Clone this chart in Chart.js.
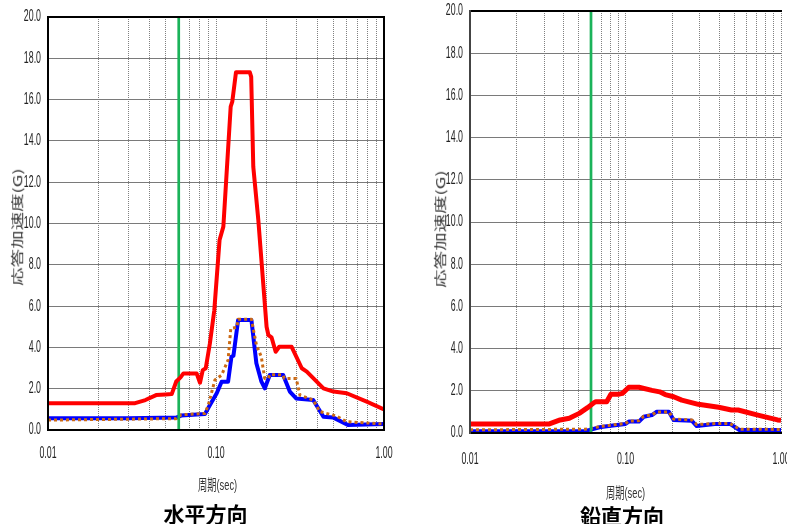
<!DOCTYPE html>
<html><head><meta charset="utf-8">
<script src="https://cdn.jsdelivr.net/npm/chart.js@4.4.1/dist/chart.umd.min.js"></script>
<style>
html,body{margin:0;padding:0;background:#fff;width:787px;height:524px;overflow:hidden;position:relative;}
canvas{position:absolute;top:0;}
#cH{left:0;}
#cV{left:400px;}
.t{position:absolute;white-space:nowrap;line-height:1;transform-origin:50% 50%;}
.ytitle{font-size:12px;font-family:'Noto Sans CJK JP',sans-serif;color:#333;}
.xtitle{font-size:14px;font-family:'Liberation Sans','Noto Sans CJK JP',sans-serif;color:#333;}
.head{font-size:21px;font-weight:bold;font-family:'Noto Sans CJK JP',sans-serif;color:#000;}
</style></head><body>
<canvas id="cH" width="400" height="524"></canvas>
<canvas id="cV" width="397" height="524"></canvas>
<div class="t ytitle" id="yH">応答加速度(G)</div>
<div class="t xtitle" id="xH">周期(sec)</div>
<div class="t head" id="hH">水平方向</div>
<div class="t ytitle" id="yV">応答加速度(G)</div>
<div class="t xtitle" id="xV">周期(sec)</div>
<div class="t head" id="hV">鉛直方向</div>
<script>
// ---------- data ----------
const xMajorTicks = [0.01, 0.1, 1.0];
const xTickLabels = ['0.01', '0.10', '1.00'];
const yTickValues = [0, 2, 4, 6, 8, 10, 12, 14, 16, 18, 20];
const yTickLabels = ['0.0', '2.0', '4.0', '6.0', '8.0', '10.0', '12.0', '14.0', '16.0', '18.0', '20.0'];
const greenPeriod = [0.06, 0.06];
const greenValue = [0, 20];

// 水平方向
const hRedPeriod = [0.01, 0.033, 0.038, 0.044, 0.050, 0.0545, 0.058, 0.0615, 0.064, 0.0767, 0.0803, 0.0834, 0.0869, 0.092, 0.0977, 0.105, 0.1106, 0.1147, 0.1223, 0.125, 0.1315, 0.159, 0.162, 0.1667, 0.1786, 0.191, 0.2, 0.205, 0.214, 0.2265, 0.238, 0.282, 0.324, 0.347, 0.436, 0.50, 0.6, 0.789, 1.0];
const hRed       = [1.3, 1.3, 1.45, 1.69, 1.72, 1.74, 2.35, 2.55, 2.74, 2.74, 2.29, 2.9, 2.99, 4.2, 5.8, 9.2, 9.85, 11.95, 15.66, 15.9, 17.32, 17.32, 17.1, 12.75, 10.17, 7.1, 5.0, 4.6, 4.49, 3.79, 4.03, 4.03, 2.99, 2.83, 2.02, 1.86, 1.78, 1.37, 1.0];
const hBluePeriod = [0.01, 0.03, 0.058, 0.062, 0.0859, 0.092, 0.101, 0.108, 0.118, 0.1236, 0.127, 0.1354, 0.1625, 0.1739, 0.1864, 0.1953, 0.209, 0.251, 0.275, 0.3, 0.379, 0.436, 0.497, 0.61, 1.0];
const hBlue       = [0.57, 0.57, 0.6, 0.7, 0.77, 1.21, 1.78, 2.34, 2.34, 3.55, 3.6, 5.33, 5.33, 3.23, 2.34, 2.02, 2.66, 2.66, 1.86, 1.53, 1.45, 0.64, 0.61, 0.24, 0.29];
const hOrangePeriod = [0.01, 0.058, 0.062, 0.0859, 0.09, 0.0985, 0.108, 0.118, 0.1225, 0.133, 0.1354, 0.1625, 0.174, 0.186, 0.195, 0.205, 0.209, 0.25, 0.255, 0.3, 0.316, 0.379, 0.415, 0.52, 0.6, 1.0];
const hOrange       = [0.48, 0.55, 0.74, 0.8, 1.21, 2.42, 2.66, 3.39, 4.92, 4.97, 5.36, 5.36, 4.12, 3.55, 2.5, 2.5, 2.68, 2.68, 2.5, 2.5, 1.69, 1.45, 0.89, 0.68, 0.4, 0.29];

// 鉛直方向
const vRedPeriod = [0.01, 0.0324, 0.038, 0.0435, 0.0504, 0.057, 0.0628, 0.0644, 0.0757, 0.0806, 0.0909, 0.0955, 0.105, 0.122, 0.148, 0.166, 0.18, 0.204, 0.23, 0.294, 0.397, 0.48, 0.53, 0.71, 0.95, 1.0];
const vRed       = [0.43, 0.43, 0.62, 0.7, 0.93, 1.2, 1.44, 1.48, 1.48, 1.84, 1.84, 1.88, 2.17, 2.17, 2.02, 1.95, 1.82, 1.72, 1.56, 1.36, 1.22, 1.09, 1.09, 0.85, 0.62, 0.6];
const vBluePeriod = [0.01, 0.055, 0.06, 0.068, 0.078, 0.1, 0.105, 0.122, 0.131, 0.148, 0.159, 0.19, 0.204, 0.267, 0.287, 0.375, 0.47, 0.54, 1.0];
const vBlue       = [0.08, 0.1, 0.16, 0.27, 0.33, 0.43, 0.54, 0.54, 0.77, 0.85, 1.01, 1.01, 0.62, 0.58, 0.33, 0.43, 0.43, 0.14, 0.14];
const vOrangePeriod = [0.01, 0.055, 0.06, 0.068, 0.078, 0.1, 0.105, 0.122, 0.131, 0.148, 0.159, 0.19, 0.204, 0.267, 0.287, 0.375, 0.47, 0.54, 1.0];
const vOrange       = [0.15, 0.18, 0.22, 0.3, 0.36, 0.45, 0.56, 0.58, 0.8, 0.86, 1.0, 1.0, 0.66, 0.62, 0.4, 0.45, 0.45, 0.18, 0.17];

// ---------- helpers ----------
const pts = (xs, ys) => xs.map((x, i) => ({x: x, y: ys[i]}));
const xGridValues = [];
[0.01, 0.1].forEach(d => { for (let m = 1; m <= 9; m++) xGridValues.push(+(m * d).toFixed(3)); });
xGridValues.push(1);

// condensed tick text: squeeze each label horizontally via fillText's maxWidth
function condense(canvas, factor) {
  const ctx = canvas.getContext('2d');
  const orig = ctx.fillText.bind(ctx);
  ctx.fillText = function (t, x, y, mw) {
    const w = this.measureText(String(t)).width * factor;
    return orig(t, x, y, mw === undefined ? w : Math.min(mw, w));
  };
}

const framePlugin = {
  id: 'frame',
  afterDatasetsDraw(chart, args, o) {
    const {ctx, chartArea: {left, right, top, bottom}} = chart;
    ctx.save();
    ctx.lineWidth = 2;
    ctx.strokeStyle = '#000';
    ctx.beginPath();
    ctx.moveTo(left, top); ctx.lineTo(right + 1, top);
    ctx.moveTo(left, bottom); ctx.lineTo(right + 1, bottom);
    if (o.right) { ctx.moveTo(right, top); ctx.lineTo(right, bottom); }
    ctx.stroke();
    ctx.strokeStyle = o.leftColor || '#000';
    ctx.beginPath();
    ctx.moveTo(left, top - 1); ctx.lineTo(left, bottom + 1);
    ctx.stroke();
    ctx.restore();
  }
};

const tickFont = {family: "'Liberation Sans',Arial,sans-serif", size: 16};

function makeChart(id, c) {
  const canvas = document.getElementById(id);
  condense(canvas, 0.55);
  return new Chart(canvas, {
    type: 'line',
    data: {
      datasets: [
        {data: pts(c.redP, c.red), borderColor: '#ff0000', borderWidth: c.redW},
        {data: pts(greenPeriod, greenValue), borderColor: '#1bb35a', borderWidth: 2.7},
        {data: pts(c.orangeP, c.orange), borderColor: '#cc6a14', borderWidth: 3, borderDash: [3, 3]},
        {data: pts(c.blueP, c.blue), borderColor: '#0000ff', borderWidth: 4}
      ]
    },
    options: {
      responsive: false, animation: false, devicePixelRatio: 1,
      layout: {padding: {top: c.top, right: c.rightPad, left: 0, bottom: 0}, autoPadding: false},
      elements: {point: {radius: 0, hoverRadius: 0}, line: {tension: 0, borderJoinStyle: 'round', borderCapStyle: 'butt', fill: false}},
      plugins: {legend: {display: false}, tooltip: {enabled: false}, frame: {right: c.frameRight, leftColor: c.leftColor}},
      events: [],
      scales: {
        x: {
          type: 'logarithmic', min: 0.01, max: 1,
          afterBuildTicks: s => { s.ticks = xGridValues.map(v => ({value: v})); },
          afterFit: s => { s.height = c.xAxisH; },
          ticks: {
            autoSkip: false, maxRotation: 0, minRotation: 0, padding: 0, font: tickFont, color: '#222',
            callback: v => { const i = xMajorTicks.findIndex(m => Math.abs(m - v) < 1e-9); return i >= 0 ? xTickLabels[i] : ''; }
          },
          grid: {color: '#808080', lineWidth: 1, drawTicks: true, tickLength: c.xTickGap, tickColor: 'rgba(0,0,0,0)'},
          border: {display: false, dash: [1, 1]}
        },
        y: {
          min: 0, max: 20,
          afterBuildTicks: s => { s.ticks = yTickValues.map(v => ({value: v})); },
          afterFit: s => { s.width = c.yAxisW; },
          ticks: {padding: 0, font: tickFont, color: '#222', callback: (v, i) => yTickLabels[i]},
          grid: {color: '#7a7a7a', lineWidth: 1, drawTicks: true, tickLength: 7, tickColor: 'rgba(0,0,0,0)'},
          border: {display: false}
        }
      }
    },
    plugins: [framePlugin]
  });
}

makeChart('cH', {redP: hRedPeriod, red: hRed, blueP: hBluePeriod, blue: hBlue, orangeP: hOrangePeriod, orange: hOrange,
  redW: 4, top: 17, rightPad: 16, xAxisH: 94, yAxisW: 48, xTickGap: 13.5, frameRight: true, leftColor: '#000'});
makeChart('cV', {redP: vRedPeriod, red: vRed, blueP: vBluePeriod, blue: vBlue, orangeP: vOrangePeriod, orange: vOrange,
  redW: 5, top: 11, rightPad: 16, xAxisH: 91, yAxisW: 70, xTickGap: 16.5, frameRight: false, leftColor: '#444'});

// ---------- HTML titles ----------
function place(id, cx, cy, rot, targetLen, sy) {
  const el = document.getElementById(id);
  const w = el.offsetWidth, h = el.offsetHeight;
  el.style.left = (cx - w / 2) + 'px';
  el.style.top = (cy - h / 2) + 'px';
  const sx = targetLen ? targetLen / w : 1;
  el.style.transform = (rot ? 'rotate(' + rot + 'deg) ' : '') + 'scale(' + sx + ',' + (sy || 1) + ')';
}
place('yH', 17, 226.5, -90, 117, 1);
place('yV', 440, 228.5, -90, 117, 1);
place('xH', 217, 485, 0, 39, 1.05);
place('xV', 625, 493, 0, 39, 1.05);
place('hH', 205.5, 513, 0, 0, 1);
place('hV', 622, 515, 0, 0, 1);
</script>
</body></html>
